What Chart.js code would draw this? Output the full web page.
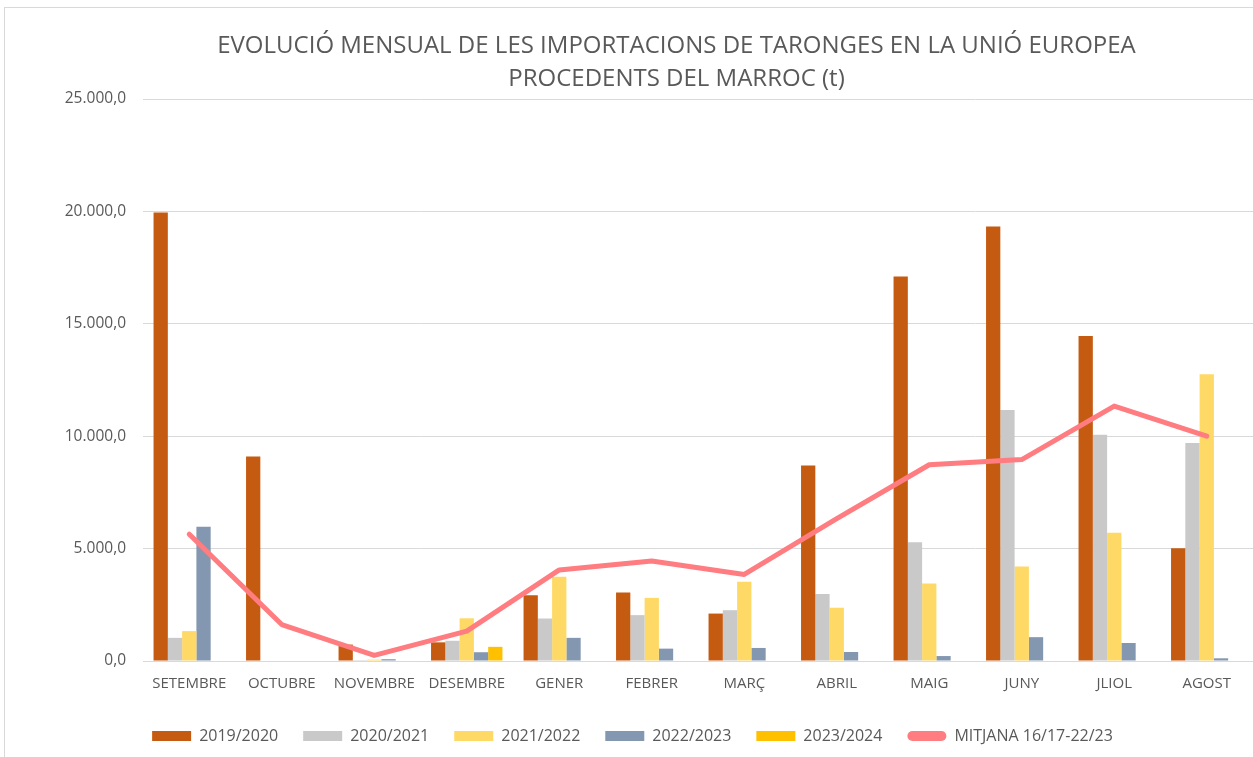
<!DOCTYPE html>
<html>
<head>
<meta charset="utf-8">
<script src="https://cdn.jsdelivr.net/npm/chart.js@4.4.1/dist/chart.umd.min.js"></script>
<style>
    body { margin: 0; background: #fff; overflow: hidden; }
    #frame { position: absolute; left: 4px; top: 7px; width: 1400px; height: 900px; border: 1px solid #d9d9d9; }
    #chart { position: absolute; left: 0; top: 0; }
</style>
</head>
<body>
<div id="frame"></div>
<canvas id="chart" width="1253" height="757"></canvas>
<script>
// months (sept -> aug)
const months = ['SETEMBRE', 'OCTUBRE', 'NOVEMBRE', 'DESEMBRE', 'GENER', 'FEBRER', 'MARÇ', 'ABRIL', 'MAIG', 'JUNY', 'JLIOL', 'AGOST'];

// tonnes per campaign
const c2019 = [19950, 9100, 730, 830, 2930, 3050, 2110, 8700, 17100, 19330, 14460, 5020];
const c2020 = [1030, null, 40, 900, 1890, 2040, 2260, 2980, 5280, 11160, 10070, 9700];
const c2021 = [1330, null, 60, 1900, 3750, 2810, 3530, 2370, 3450, 4200, 5710, 12760];
const c2022 = [5970, null, 80, 390, 1030, 550, 580, 400, 220, 1060, 800, 120];
const c2023 = [null, null, null, 630, null, null, null, null, null, null, null, null];
const mitjana = [5640, 1620, 250, 1330, 4050, 4450, 3850, 6330, 8730, 8960, 11340, 10000];

const yTicks = [0, 5000, 10000, 15000, 20000, 25000];

function fmt(v) {
    let s = Math.round(v).toString().replace(/\B(?=(\d{3})+(?!\d))/g, '.');
    return s + ',0';
}

const textColor = '#595959';
const gridColor = '#d9d9d9';
Chart.defaults.font.family = "'Open Sans', sans-serif";
Chart.defaults.color = textColor;

// title/legend sit off-centre in the original
const shiftBoxes = {
    id: 'shiftBoxes',
    afterLayout(chart) {
        chart.titleBlock.left += 50;
        chart.titleBlock.right += 50;
        chart.legend.left += 6;
        chart.legend.right += 6;
    }
};

function bar(label, data, color) {
    return { type: 'bar', label: label, data: data, backgroundColor: color, order: 2,
             categoryPercentage: 0.772, barPercentage: 1.0 };
}

new Chart(document.getElementById('chart'), {
    type: 'bar',
    data: {
        labels: months,
        datasets: [
            {
                type: 'line', label: 'MITJANA 16/17-22/23', data: mitjana,
                borderColor: '#ff7c80', backgroundColor: '#ff7c80', borderWidth: 5,
                pointRadius: 0, tension: 0, borderCapStyle: 'round', borderJoinStyle: 'round', order: 1
            },
            bar('2019/2020', c2019, '#c55a11'),
            bar('2020/2021', c2020, '#c9c9c9'),
            bar('2021/2022', c2021, '#ffd966'),
            bar('2022/2023', c2022, '#8497b0'),
            bar('2023/2024', c2023, '#ffc000')
        ]
    },
    options: {
        responsive: false,
        animation: false,
        devicePixelRatio: 1,
        layout: { padding: { left: 0, right: 0, top: 0, bottom: 3 } },
        plugins: {
            title: {
                display: true,
                text: ['EVOLUCIÓ MENSUAL DE LES IMPORTACIONS DE TARONGES EN LA UNIÓ EUROPEA', 'PROCEDENTS DEL MARROC (t)'],
                color: textColor,
                font: { size: 24, weight: 'normal', lineHeight: 1.375 },
                padding: { top: 30, bottom: 3 }
            },
            legend: {
                position: 'bottom',
                labels: {
                    boxWidth: 39, boxHeight: 10, padding: 25,
                    font: { size: 16 }, color: textColor,
                    generateLabels(chart) {
                        const items = Chart.defaults.plugins.legend.labels.generateLabels(chart);
                        items.forEach(it => { it.lineWidth = 0; });
                        // line series goes last, as in the original
                        const line = items.shift();
                        line.borderRadius = 5;
                        items.push(line);
                        return items;
                    },
                    useBorderRadius: true,
                    borderRadius: 0
                }
            },
            tooltip: { enabled: false }
        },
        scales: {
            x: {
                grid: { display: false, drawTicks: false },
                border: { color: gridColor },
                afterFit(scale) { scale.height = 42; },
                ticks: { font: { size: 15 }, padding: 14, color: textColor, maxRotation: 0 }
            },
            y: {
                min: 0, max: 25000,
                afterBuildTicks(scale) { scale.ticks = yTicks.map(v => ({ value: v })); },
                afterFit(scale) { scale.width = 143; },
                grid: { color: gridColor, drawTicks: false },
                border: { display: false },
                ticks: { font: { size: 15.5 }, padding: 17, color: textColor, callback: v => fmt(v) }
            }
        }
    },
    plugins: [shiftBoxes]
});
</script>
</body>
</html>
